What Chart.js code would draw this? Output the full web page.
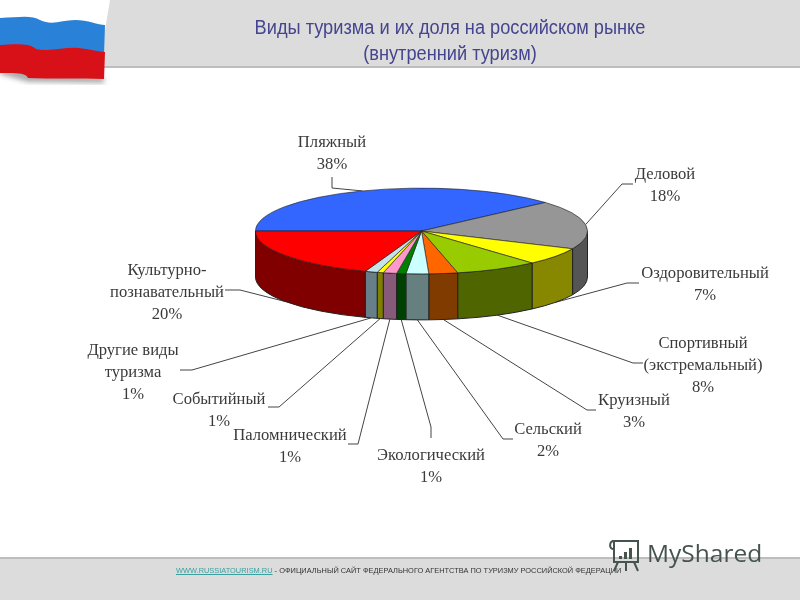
<!DOCTYPE html>
<html lang="ru"><head><meta charset="utf-8">
<style>
html,body{margin:0;padding:0;width:800px;height:600px;background:#fff;overflow:hidden}
#head{position:absolute;left:0;top:0;width:800px;height:66px;background:#dcdcdc;border-bottom:2px solid #bdbdbd}
#foot{position:absolute;left:0;top:557px;width:800px;height:43px;background:#dcdcdc;border-top:2px solid #bdbdbd;box-sizing:border-box}
#title{position:absolute;left:150px;width:600px;top:14px;text-align:center;font:20px/26px "Liberation Sans",Arial,sans-serif;color:#45458f;transform:scaleX(.91);transform-origin:50% 50%}
#ft{position:absolute;left:176px;top:566px;white-space:nowrap;font:8px/10px "Liberation Sans",Arial,sans-serif;color:#333;transform:scaleX(.927);transform-origin:0 0}
#ft a{color:#3aa0a0;text-decoration:underline}
#flag,#logo{position:absolute;left:0;top:0}
#wm{position:absolute;left:647px;top:535px;font:24.5px/36px "Open Sans",sans-serif;color:#46544e}
#c{position:absolute;left:0;top:0}
</style></head><body>
<div id="head"></div><div id="foot"></div>
<svg id="flag" width="130" height="95" viewBox="0 0 130 95">
<defs><filter id="b"><feGaussianBlur stdDeviation="2.5"/></filter></defs>
<path d="M0 74 L28 82 L104 83 L104 77 L0 68Z" fill="#aaa" filter="url(#b)"/>
<path d="M0 0H110L105 30H0Z" fill="#fff"/>
<path d="M0 18C20 17 32 15 40 20C52 26 62 20 75 20C88 20 98 25 105 25L104 55H0Z" fill="#2a82d8"/>
<path d="M0 45C15 44 30 43 36 49C50 52 65 47 78 48C90 49 100 52 105 52L104 79C80 78 50 79 28 78C26 72 12 73 0 73Z" fill="#d81018"/>
</svg>
<div id="title">Виды туризма и их доля на российском рынке<br>(внутренний туризм)</div>
<canvas id="c" width="800" height="600"></canvas>
<div id="ft"><a>WWW.RUSSIATOURISM.RU</a> - ОФИЦИАЛЬНЫЙ САЙТ ФЕДЕРАЛЬНОГО АГЕНТСТВА ПО ТУРИЗМУ РОССИЙСКОЙ ФЕДЕРАЦИИ</div>
<svg id="logo" width="800" height="600" viewBox="0 0 800 600" style="pointer-events:none">
<g fill="none" stroke="#46544e" stroke-width="2">
<path d="M612 541H639M614 541V562H638V541M614 541C609 541 609 549 613 549M618 562L614 571M634 562L638 571M626 562V571"/>
</g>
<g fill="#46544e"><rect x="619" y="556" width="3" height="3"/><rect x="624" y="552" width="3" height="7"/><rect x="629" y="548" width="3" height="11"/></g>
</svg>
<div id="wm">MyShared</div>
<script src="https://cdn.jsdelivr.net/npm/chart.js@4"></script>
<script>
const categories=[["Пляжный"],["Деловой"],["Оздоровительный"],["Спортивный","(экстремальный)"],["Круизный"],["Сельский"],["Экологический"],["Паломнический"],["Событийный"],["Другие виды","туризма"],["Культурно-","познавательный"]];
const percentLabels=["38%","18%","7%","8%","3%","2%","1%","1%","1%","1%","20%"];
const values=[38.4,18.4,6.6,8.1,2.8,2.2,0.9,1.3,0.6,1.2,19.5];
const topColors=["#3366ff","#969696","#ffff00","#99cc00","#ff6600","#ccffff","#008000","#ff99cc","#ffff00","#c4e2ea","#ff0000"];
const sideColors=["#1a3380","#555555","#878700","#4f6600","#803c00","#668080","#004000","#865a78","#808000","#667f88","#800000"];
// label layout: centre x, first-line y, elbow points of the leader line (from label towards pie)
const labelLayout=[
 {x:332,y:143,pts:[[332,177],[332,188]]},
 {x:665,y:175,pts:[[633,184],[622,184]]},
 {x:705,y:274,pts:[[639,283],[627,283]]},
 {x:703,y:344,pts:[[643,363],[633,363]]},
 {x:634,y:401,pts:[[596,410],[587,410]]},
 {x:548,y:430,pts:[[513,439],[503,439]]},
 {x:431,y:456,pts:[[431,438],[431,427]]},
 {x:290,y:436,pts:[[348,444],[358,444]]},
 {x:219,y:400,pts:[[268,407],[279,407]]},
 {x:133,y:351,pts:[[180,370],[192,370]]},
 {x:167,y:271,pts:[[225,290],[240,290]]}
];
const tilt=0.2583, depth=46, lineH=22;
const pie3d={id:'pie3d',
 beforeDatasetsDraw(chart){
  const ctx=chart.ctx, arcs=chart.getDatasetMeta(0).data;
  const cx=arcs[0].x, cy=arcs[0].y, rx=arcs[0].outerRadius, ry=rx*tilt;
  ctx.save();
  ctx.lineWidth=1;
  // leader lines go under the pie body
  ctx.strokeStyle='#444';
  arcs.forEach((a,i)=>{
    const m=(a.startAngle+a.endAngle)/2;
    const px=cx+rx*Math.cos(m), py=cy+ry*Math.sin(m)+(Math.sin(m)>0?depth:0);
    ctx.beginPath();
    labelLayout[i].pts.forEach((p,k)=>k?ctx.lineTo(p[0],p[1]):ctx.moveTo(p[0],p[1]));
    ctx.lineTo(px,py); ctx.stroke();
  });
  ctx.strokeStyle='#222';
  arcs.forEach((a,i)=>{
    const s=Math.max(a.startAngle,0), e=Math.min(a.endAngle,Math.PI);
    if(e<=s) return;
    ctx.beginPath();
    ctx.ellipse(cx,cy,rx,ry,0,s,e);
    ctx.ellipse(cx,cy+depth,rx,ry,0,e,s,true);
    ctx.closePath();
    ctx.fillStyle=sideColors[i]; ctx.fill(); ctx.stroke();
  });
  ctx.restore();
  ctx.save();
  ctx.translate(cx,cy); ctx.scale(1,tilt); ctx.translate(-cx,-cy);
 },
 afterDatasetsDraw(chart){
  const ctx=chart.ctx; ctx.restore();
  ctx.save();
  ctx.font='16.6px "Liberation Serif",serif'; ctx.fillStyle='#3a3a3a'; ctx.textAlign='center'; ctx.textBaseline='middle';
  categories.forEach((lines,i)=>{
    const l=labelLayout[i];
    [...lines,percentLabels[i]].forEach((t,k)=>ctx.fillText(t,l.x,l.y+k*lineH));
  });
  ctx.restore();
 }
};
new Chart(document.getElementById('c'),{
 type:'pie',
 data:{labels:categories.map(c=>c.join(' ')),datasets:[{data:values,backgroundColor:topColors,borderColor:'#222',borderWidth:1}]},
 options:{responsive:false,animation:false,rotation:-90,
  layout:{padding:{left:255,right:212,top:64.5,bottom:202.5}},
  plugins:{legend:{display:false},tooltip:{enabled:false},title:{display:false}}},
 plugins:[pie3d]
});
</script>
</body></html>
